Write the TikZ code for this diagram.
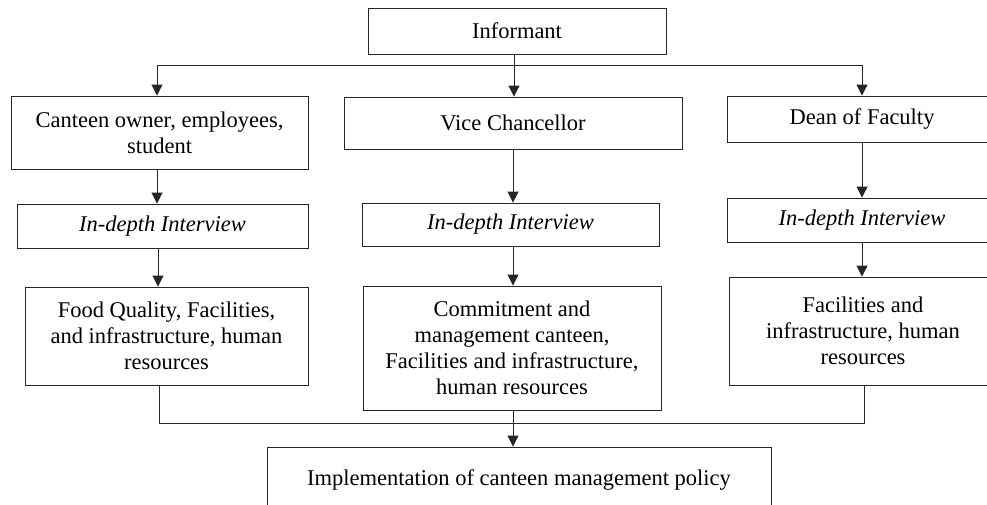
\documentclass[tikz,border=0pt]{standalone}
\usepackage{fontspec}
\setmainfont{Liberation Serif}
\usetikzlibrary{arrows.meta}
\tikzset{
  box/.style={draw=black!85, line width=0.9pt, rectangle, align=center, inner sep=2pt,
    font=\fontsize{22.5}{26}\selectfont},
  ibox/.style={box, font=\fontsize{22.5}{26}\selectfont\itshape},
  conn/.style={draw=black!85, line width=0.9pt},
  arr/.style={conn, -{Triangle[width=11pt,length=11pt]}}
}
\begin{document}
\begin{tikzpicture}[x=1pt,y=-1pt]
\useasboundingbox (0,0) rectangle (987,504);
\fill[white] (0,0) rectangle (987,504);
\clip (0,0) rectangle (987,504);

\node[box, minimum width=298pt, minimum height=46pt] (inf) at (517,31) {Informant};

\node[box, minimum width=297pt, minimum height=73pt] (c1) at (159.5,132.5) {Canteen owner, employees,\\ student};
\node[box, minimum width=338pt, minimum height=52pt] (c2) at (513,123) {Vice Chancellor};
\node[box, minimum width=270pt, minimum height=46pt] (c3) at (862,119) {Dean of Faculty};

\node[ibox, minimum width=291pt, minimum height=44pt] (i1) at (162.5,226) {In-depth Interview};
\node[ibox, minimum width=297pt, minimum height=43pt] (i2) at (510.5,224.5) {In-depth Interview};
\node[ibox, minimum width=270pt, minimum height=44pt] (i3) at (862,220) {In-depth Interview};

\node[box, minimum width=283pt, minimum height=98pt] (r1) at (166.5,336) {Food Quality, Facilities,\\ and infrastructure, human\\ resources};
\node[box, minimum width=298pt, minimum height=124pt] (r2) at (512,348) {Commitment and\\ management canteen,\\ Facilities and infrastructure,\\ human resources};
\node[box, minimum width=268pt, minimum height=108pt] (r3) at (863,331) {Facilities and\\ infrastructure, human\\ resources};

\node[box, minimum width=504pt, minimum height=66pt] (fin) at (519,480) {Implementation of canteen management policy};

% top bus
\coordinate (tl) at (157,65);
\coordinate (tm) at (514,65);
\coordinate (tr) at (862,65);
\draw[conn] (tl) -- (tr);
\draw[arr] (tl) -- (c1.north -| tl);
\draw[arr] (inf.south -| tm) -- (c2.north -| tm);
\draw[arr] (tr) -- (c3.north -| tr);

% columns
\coordinate (xl) at (158,0);
\coordinate (xm) at (513,0);
\draw[arr] (c1.south -| tl) -- (i1.north -| tl);
\draw[arr] (i1.south -| xl) -- (r1.north -| xl);
\draw[arr] (c2.south -| xm) -- (i2.north -| xm);
\draw[arr] (i2.south -| xm) -- (r2.north -| xm);
\draw[arr] (c3.south -| tr) -- (i3.north -| tr);
\draw[arr] (i3.south -| tr) -- (r3.north -| tr);

% bottom bus
\coordinate (bl) at (159,423);
\coordinate (bm) at (513,423);
\coordinate (br) at (864,423);
\draw[conn] (r1.south -| bl) -- (bl) -- (br) -- (r3.south -| br);
\draw[arr] (r2.south -| bm) -- (fin.north -| bm);
\end{tikzpicture}
\end{document}
